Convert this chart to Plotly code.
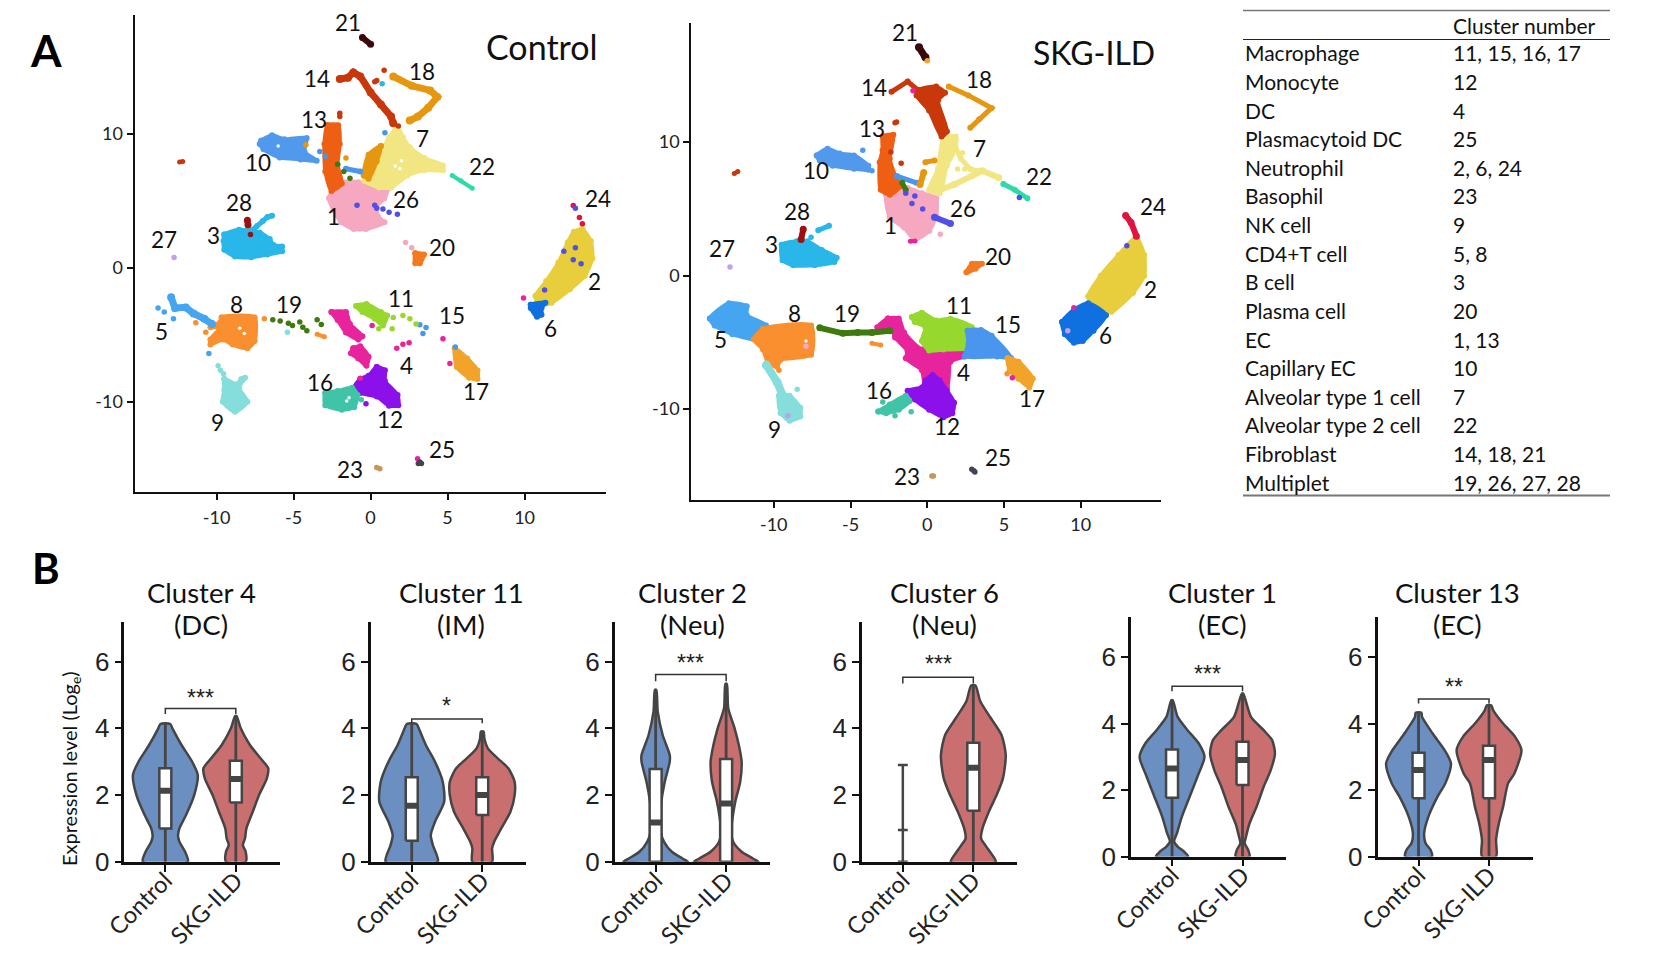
import plotly.graph_objects as go

# ---------- colours of the UMAP clusters ----------
COL = {1:"#F5A8C0",2:"#E8CE3C",3:"#29B6E9",4:"#E8249C",5:"#45A5F0",6:"#0F70E0",7:"#F2E682",8:"#F98F2E",
       9:"#86DEDC",10:"#5199EC",11:"#96D82E",12:"#8B10EA",13:"#EE5F14",14:"#C8380A",15:"#4A96EE",16:"#40C4A8",
       17:"#F2A32A",18:"#E5980F",19:"#3E7A0E",20:"#F47A22",21:"#3A0A0A",22:"#2EDBA8",23:"#C8955A",24:"#E0143C",
       25:"#444450",26:"#5050E8",27:"#C0A0EC",28:"#9C1010"}

# ---------- Control panel: cluster outlines ----------
ctl_1=[(-2.5,5.8),(-1.9,6.4),(-0.8,6.4),(0.3,6.0),(1.1,5.9),(0.9,5.2),(0.4,4.6),(0.5,3.8),(0.9,3.4),(-0.3,2.9),(-1.1,2.9),(-1.9,3.4),(-2.4,4.3),(-2.7,5.2)]
ctl_2=[(13.75,2.9),(14.3,2.0),(14.4,0.7),(13.9,-0.6),(12.95,-1.6),(11.75,-2.6),(10.95,-2.8),(10.7,-2.1),(11.4,-1.0),(12.2,0.4),(12.8,1.9),(13.2,2.7)]
ctl_3=[(-9.5,2.5),(-8.55,2.85),(-7.2,2.65),(-6.55,2.15),(-6.3,1.7),(-5.75,1.6),(-5.75,1.25),(-6.7,1.0),(-7.75,0.8),(-8.8,0.85),(-9.5,1.35),(-9.55,2.0)]
ctl_4a=[(-2.54,-3.3),(-1.6,-3.3),(-1.34,-4.2),(-0.53,-5.1),(-0.8,-5.34),(-1.6,-4.83),(-2.14,-3.9)]
ctl_4b=[(-1.12,-6.0),(-0.67,-5.86),(-0.13,-6.63),(-0.27,-7.3),(-0.8,-6.76),(-1.28,-6.37)]
ctl_6=[(10.4,-2.75),(11.35,-2.6),(11.1,-3.0),(11.1,-3.5),(10.8,-3.65),(10.4,-3.0)]
ctl_7=[(1.75,10.5),(2.1,9.75),(2.55,9.0),(3.5,8.2),(4.7,7.65),(4.7,7.3),(3.5,7.3),(2.4,6.9),(1.35,6.0),(0.55,6.0),(-0.4,6.5),(-0.2,7.4),(0.7,8.7),(1.2,9.75)]
ctl_8=[(-9.67,-3.7),(-7.53,-3.7),(-7.53,-5.47),(-8.0,-6.0),(-8.95,-5.73),(-9.6,-5.34),(-10.4,-5.73),(-10.4,-5.34),(-9.75,-4.44),(-10.4,-4.44),(-9.75,-4.05)]
ctl_9=[(-9.5,-8.3),(-8.7,-8.7),(-8.4,-8.3),(-8.15,-8.2),(-8.55,-8.95),(-8.0,-10.0),(-8.8,-10.75),(-9.6,-10.0),(-9.5,-9.1)]
ctl_10=[(-7.1,9.5),(-6.4,9.9),(-5.6,9.6),(-4.15,9.7),(-4.3,8.7),(-3.5,8.0),(-4.55,8.1),(-5.9,8.25),(-6.95,8.85),(-7.2,9.25)]
ctl_11=[(-0.93,-2.85),(-0.27,-2.7),(0.67,-3.3),(1.07,-3.55),(0.8,-4.3),(0.27,-3.8),(-0.53,-3.3)]
ctl_12=[(0.4,-7.4),(0.93,-7.65),(0.93,-8.45),(1.75,-9.5),(1.8,-10.25),(1.2,-10.3),(0.4,-9.6),(-0.67,-9.35),(-1.07,-8.95),(-0.67,-8.3),(-0.13,-8.05)]
ctl_13=[(-2.8,10.65),(-2.1,10.65),(-2.0,9.25),(-2.15,7.7),(-1.87,6.3),(-2.54,5.75),(-2.94,7.2),(-3.0,9.25)]
ctl_16=[(-2.94,-9.35),(-2.14,-9.2),(-1.2,-8.95),(-0.85,-9.5),(-1.07,-10.4),(-1.87,-10.6),(-2.94,-10.25)]
ctl_17=[(5.47,-6.0),(6.27,-6.76),(6.94,-7.66),(6.94,-8.3),(6.4,-8.2),(5.6,-7.4)]
ctl_18b=[(0.67,9.1),(0.4,7.95),(-0.13,6.65),(-0.45,6.9),(-0.13,8.45)]
ctl_20=[(2.9,1.1),(3.47,1.0),(3.2,0.34),(2.9,0.34)]
ctl_blobs=[(1,ctl_1),(2,ctl_2),(3,ctl_3),(4,ctl_4a),(4,ctl_4b),(6,ctl_6),(7,ctl_7),(8,ctl_8),(9,ctl_9),(10,ctl_10),
           (11,ctl_11),(12,ctl_12),(13,ctl_13),(16,ctl_16),(17,ctl_17),(18,ctl_18b),(20,ctl_20)]
ctl_holes=[(1.6,7.6),(1.9,7.4),(2.0,8.0),(-1.55,-9.95),(-1.4,-9.7),(-8.5,-4.5),(-8.2,-4.9),(-6.0,9.1)]

# thin strands
ctl_3l=[(-7.7,2.8),(-7.4,3.1),(-7.0,3.5),(-6.7,3.8),(-6.4,3.9)]
ctl_5l=[(-12.95,-2.2),(-12.7,-3.0),(-12.0,-2.95),(-11.5,-3.4),(-10.8,-3.8),(-10.3,-4.2)]
ctl_8l=[(-3.47,-4.95),(-3.0,-5.15)]
ctl_14l=[(-2.0,14.1),(-1.47,14.2),(-1.12,14.6),(-0.67,14.3),(0.0,13.1),(0.67,12.2),(1.33,11.3),(1.47,10.8)]
ctl_14s=[(-12.4,7.9),(-12.2,7.95)]
ctl_18l=[(1.47,14.3),(2.67,13.6),(3.87,13.25),(4.33,12.77),(3.74,11.95),(3.07,11.3),(2.54,11.0)]
ctl_21l=[(-0.53,17.2),(0.0,16.7)]
ctl_22l=[(5.3,6.9),(5.87,6.5),(6.6,5.95)]
ctl_28l=[(-8.0,3.55),(-7.96,3.2)]
ctl_15l=[(-1.6,7.4),(-0.67,7.2)]
ctl_lines=[(3,ctl_3l,5),(5,ctl_5l,7),(8,ctl_8l,4),(14,ctl_14l,7),(14,ctl_14s,4),(18,ctl_18l,7),(21,ctl_21l,6),(22,ctl_22l,4),(28,ctl_28l,6),(15,ctl_15l,5)]

# single cells
ctl_dots=[(4,[(1.7,-6.0),(2.1,-5.7),(2.5,-5.6),(4.7,-5.3),(5.15,-7.15),(0.1,-4.3),(9.93,-2.25),(-0.67,-8.25),(3.05,-14.25)]),
          (5,[(-13.8,-3.0),(-13.4,-3.3),(-12.8,-3.8),(-10.5,-6.4)]),
          (15,[(3.2,-4.25),(3.6,-4.45),(3.4,-4.9),(5.5,-5.9),(0.93,10.1),(-3.3,8.7),(-2.94,8.33)]),
          (8,[(-11.35,-4.1),(-10.7,-4.8),(-6.9,-3.8)]),
          (9,[(-9.9,-7.3),(-9.75,-7.65),(-9.55,-7.9),(-5.4,-4.8)]),
          (11,[(1.47,-3.7),(2.1,-3.55),(2.55,-3.8),(2.95,-4.2),(1.4,-4.55),(0.53,-4.55)]),
          (12,[(-0.3,-10.15)]),
          (14,[(0.4,14.0),(0.27,13.9),(0.88,14.75),(1.8,10.6),(-2.0,11.55),(-2.0,11.3)]),
          (16,[(-0.6,-9.85)]),
          (18,[(-1.6,8.2),(-4.2,9.2)]),
          (19,[(-6.35,-3.87),(-5.87,-3.97),(-5.34,-4.13),(-5.07,-4.3),(-4.6,-4.05),(-4.4,-4.44),(-4.14,-4.7),(-3.47,-3.87),(-3.2,-4.23),(-2.14,7.74),(-1.74,7.2),(-1.34,6.7)]),
          (1,[(2.27,1.9),(2.67,1.5)]),
          (3,[(0.75,13.75)]),
          (23,[(0.4,-14.9),(0.6,-15.0)]),
          (24,[(13.16,4.65),(13.56,3.77),(13.75,3.3)]),
          (25,[(3.2,-14.5),(3.3,-14.6),(3.1,-14.6)]),
          (26,[(0.27,4.67),(0.4,4.46),(0.8,4.4),(1.2,4.15),(1.74,4.0),(-0.88,4.67),(12.55,1.24),(13.3,1.5),(13.16,0.6),(13.67,0.3),(11.3,-1.65),(13.3,4.46)]),
          (27,[(-12.76,0.77)]),
          (28,[(-7.8,2.5)])]

# ---------- SKG-ILD panel ----------
skg_1=[(-2.68,6.05),(-1.98,6.56),(-1.28,6.56),(-0.35,6.18),(0.58,5.8),(0.58,4.5),(0.12,3.35),(-0.81,2.7),(-1.51,3.6),(-2.44,4.38)]
skg_2=[(13.6,2.88),(14.13,1.54),(14.13,0.0),(13.4,-1.29),(12.0,-2.7),(11.06,-2.7),(10.48,-1.54),(11.3,0.0),(12.46,1.54)]
skg_3=[(-9.48,2.32),(-8.5,2.57),(-7.8,2.57),(-6.87,1.93),(-5.9,1.34),(-6.05,1.03),(-7.33,0.77),(-8.73,0.77),(-9.43,1.16)]
skg_4=[(-2.56,-3.2),(-1.86,-3.2),(-1.51,-4.25),(-0.35,-5.53),(2.33,-5.53),(2.33,-6.05),(1.51,-6.44),(1.28,-8.37),(-0.12,-8.24),(-0.35,-7.08),(-1.4,-6.18),(-1.28,-5.66),(-2.1,-4.63),(-2.33,-3.99),(-3.26,-3.86)]
skg_5=[(-14.16,-3.2),(-12.92,-2.06),(-11.76,-2.3),(-11.76,-2.96),(-10.5,-3.73),(-10.7,-4.5),(-11.3,-4.76),(-12.7,-4.38),(-13.85,-3.73)]
skg_6=[(8.78,-3.47),(9.55,-2.57),(10.48,-2.06),(11.64,-2.96),(10.83,-4.12),(10.13,-4.9),(9.55,-5.02),(8.96,-4.38)]
skg_7=[(1.05,10.3),(1.86,10.42),(1.86,9.52),(1.28,8.24),(0.81,6.18),(0.12,6.44),(0.7,8.0)]
skg_8=[(-10.7,-3.99),(-7.57,-3.73),(-7.57,-5.92),(-9.55,-6.3),(-9.78,-6.82),(-10.36,-6.56),(-10.7,-5.53),(-11.3,-4.76)]
skg_9=[(-9.66,-9.0),(-8.96,-9.0),(-8.27,-9.9),(-8.27,-10.55),(-8.96,-10.86),(-9.55,-10.3)]
skg_10=[(-7.2,9.0),(-6.5,9.5),(-5.7,9.14),(-4.77,9.0),(-3.84,8.24),(-3.84,7.93),(-4.77,8.0),(-6.17,8.24),(-7.0,8.62)]
skg_11=[(-1.0,-3.09),(-0.35,-2.78),(0.58,-3.35),(1.51,-3.22),(2.9,-3.86),(2.68,-5.4),(1.05,-5.53),(0.12,-5.6),(-0.35,-4.9),(-0.12,-3.86),(-0.81,-3.47)]
skg_12=[(0.35,-7.46),(0.81,-7.85),(1.28,-8.62),(1.75,-9.52),(1.63,-10.3),(1.05,-10.6),(0.12,-10.04),(-0.81,-9.27),(-1.28,-8.62),(-0.35,-8.37),(-0.12,-7.85)]
skg_13=[(-2.9,10.42),(-2.21,10.55),(-2.44,8.75),(-1.98,7.2),(-1.75,6.7),(-2.44,6.05),(-3.03,6.44),(-3.1,8.5),(-2.91,9.4)]
skg_14=[(-0.58,13.9),(0.58,14.16),(1.16,13.7),(0.7,13.13),(1.28,10.8),(0.93,10.42),(0.12,12.36),(-0.7,13.5)]
skg_15=[(2.63,-4.12),(3.5,-4.07),(4.19,-4.5),(5.47,-6.18),(4.54,-6.05),(2.44,-6.05),(2.68,-5.15)]
skg_16=[(-3.19,-10.17),(-2.44,-9.65),(-1.4,-9.0),(-1.16,-9.4),(-1.86,-10.04),(-2.68,-10.3)]
skg_17=[(5.24,-6.18),(5.94,-6.44),(6.87,-7.72),(6.64,-8.37),(5.94,-7.72),(5.36,-7.08)]
skg_20=[(2.56,0.26),(2.91,0.9),(3.56,0.9),(3.14,0.51)]
skg_blobs=[(1,skg_1),(2,skg_2),(3,skg_3),(4,skg_4),(5,skg_5),(6,skg_6),(7,skg_7),(8,skg_8),(9,skg_9),(10,skg_10),
           (11,skg_11),(15,skg_15),(12,skg_12),(13,skg_13),(14,skg_14),(16,skg_16),(17,skg_17),(20,skg_20)]
skg_holes=[(-7.9,-4.9)]

skg_3l=[(-7.1,3.4),(-6.4,3.73)]
skg_7b=[(1.75,9.78),(2.2,8.75),(2.8,7.98),(3.38,7.85)]
skg_7c=[(0.58,6.3),(1.75,6.82),(2.9,7.46),(3.6,7.85),(4.66,7.34)]
skg_8l=[(-3.6,-5.07),(-3.03,-5.2)]
skg_9l=[(-10.48,-6.7),(-9.78,-7.98),(-9.4,-9.0)]
skg_14l=[(-2.33,13.77),(-1.28,14.54),(-0.47,13.77)]
skg_14s=[(-12.57,7.65),(-12.34,7.8)]
skg_15l=[(-1.98,7.46),(-0.7,6.95)]
skg_18l=[(1.4,14.16),(2.68,13.5),(4.19,12.56),(3.38,11.71),(2.8,11.07)]
skg_18b=[(-0.12,8.5),(0.47,8.62)]
skg_18c=[(-0.23,7.72),(-0.47,6.82)]
skg_19l=[(-7.0,-3.91),(-5.5,-4.32),(-4.54,-4.25),(-3.6,-4.25),(-2.44,-4.12)]
skg_19b=[(-1.63,6.95),(-1.4,6.43)]
skg_21l=[(-0.54,17.1),(-0.12,16.35)]
skg_22l=[(4.96,6.87),(5.7,6.43),(6.52,5.8)]
skg_24l=[(12.92,4.5),(13.27,3.99),(13.62,2.96)]
skg_26l=[(0.47,4.38),(1.51,3.91)]
skg_28l=[(-8.08,3.47),(-8.22,2.7)]
skg_4l=[(-1.1,2.57),(-0.8,2.6)]
skg_lines=[(3,skg_3l,5),(7,skg_7b,5),(7,skg_7c,6),(8,skg_8l,4),(9,skg_9l,8),(14,skg_14l,5),(14,skg_14s,4),(15,skg_15l,5),
           (18,skg_18l,5),(18,skg_18b,5),(18,skg_18c,6),(19,skg_19l,6),(19,skg_19b,5),(21,skg_21l,7),(22,skg_22l,5),
           (24,skg_24l,6),(26,skg_26l,6),(28,skg_28l,6),(4,skg_4l,4)]
skg_dots=[(4,[(-0.93,13.85),(9.55,-2.4),(5.54,-7.65)]),
          (3,[(-7.57,2.88)]),
          (7,[(1.98,7.98),(2.44,7.98),(1.5,9.0),(2.3,9.2)]),
          (8,[(-9.66,-7.08),(5.2,-7.34)]),
          (9,[(-8.47,-8.5)]),
          (10,[(-4.2,9.4),(-3.6,7.85)]),
          (14,[(-2.1,11.45),(-2.0,11.5),(-2.37,9.27),(-1.7,8.42)]),
          (16,[(-2.9,-9.47),(-2.1,-10.5),(-1.05,-10.2)]),
          (17,[(0.0,16.1)]),
          (22,[(4.96,6.87)]),
          (23,[(0.3,-15.0),(0.4,-15.0)]),
          (25,[(3.03,-14.62),(2.9,-14.5),(3.1,-14.7)]),
          (26,[(13.0,2.24),(-1.0,5.4),(-0.3,5.0),(-1.4,6.18),(-0.81,5.97),(6.0,5.85)]),
          (27,[(-12.85,0.64),(9.15,-4.12),(-9.08,-10.5)]),
          (1,[(-7.9,-5.28),(0.85,3.1)])]

# ---------- cluster numbers ----------
label_numbers=[21,14,18,13,7,10,22,28,26,1,24,3,27,20,2,5,8,19,11,15,6,4,17,16,9,12,25,23]
ctl_label_x=[-1.47,-3.5,3.34,-3.66,3.34,-7.3,7.26,-8.54,2.32,-2.4,14.74,-10.2,-13.4,4.62,14.55,-13.56,-8.73,-5.29,2.0,5.26,11.7,2.32,6.86,-3.26,-9.96,1.28,4.62,-1.34]
ctl_label_y=[18.3,14.15,14.7,11.05,9.63,7.87,7.56,4.85,5.1,3.82,5.16,2.4,2.1,1.5,-1.03,-4.75,-2.76,-2.76,-2.25,-3.59,-4.52,-7.28,-9.21,-8.57,-11.54,-11.33,-13.6,-15.07]
skg_label_x=[-1.47,-3.49,3.38,-3.61,3.38,-7.26,7.26,-8.5,2.33,-2.37,14.71,-10.13,-13.34,4.61,14.55,-13.5,-8.68,-5.24,2.05,5.24,11.64,2.33,6.8,-3.14,-9.94,1.28,4.61,-1.35]
skg_label_y=[18.22,14.08,14.67,11.02,9.52,7.85,7.46,4.81,5.02,3.78,5.15,2.37,2.06,1.42,-1.03,-4.76,-2.83,-2.83,-2.27,-3.66,-4.5,-7.26,-9.21,-8.57,-11.5,-11.33,-13.59,-15.06]

umap_ticks_x=[-10,-5,0,5,10]
umap_ticks_y=[-10,0,10]

# ---------- table ----------
cell_types=["Macrophage","Monocyte","DC","Plasmacytoid DC","Neutrophil","Basophil","NK cell","CD4+T cell","B cell","Plasma cell","EC","Capillary EC","Alveolar type 1 cell","Alveolar type 2 cell","Fibroblast","Multiplet"]
cluster_numbers=["11, 15, 16, 17","12","4","25","2, 6, 24","23","9","5, 8","3","20","1, 13","10","7","22","14, 18, 21","19, 26, 27, 28"]

# ---------- violins: (expression level, half width) ----------
groups=["Control","SKG-ILD"]
v4_ctl=[(0,.32),(.3,.28),(.6,.2),(.78,.18),(1.0,.2),(1.43,.3),(2.0,.41),(2.6,.46),(3.0,.38),(3.5,.23),(4.0,.1),(4.13,.07)]
v4_skg=[(0,.14),(.3,.14),(.5,.1),(.7,.13),(1.0,.15),(1.5,.24),(2.0,.33),(2.5,.44),(2.8,.46),(3.1,.35),(3.5,.2),(4.0,.07),(4.37,.01)]
v11_ctl=[(0,.37),(.5,.3),(.8,.27),(1.2,.33),(1.8,.46),(2.4,.44),(3.0,.33),(3.5,.2),(4.0,.1),(4.13,.07)]
v11_skg=[(0,.14),(.4,.14),(.6,.17),(1.0,.27),(1.5,.4),(2.0,.46),(2.4,.46),(2.8,.37),(3.1,.22),(3.4,.08),(3.7,.03),(3.9,.02)]
v2_ctl=[(0,.46),(.1,.38),(.3,.23),(.6,.12),(.9,.07),(1.3,.06),(1.8,.08),(2.4,.13),(3.0,.2),(3.2,.2),(3.8,.1),(4.5,.03),(5.15,.01)]
v2_skg=[(0,.46),(.1,.38),(.3,.22),(.6,.1),(.9,.07),(1.3,.09),(1.8,.13),(2.4,.2),(3.0,.22),(3.5,.18),(4.0,.12),(4.6,.03),(5.33,.01)]
v6_skg=[(0,.32),(.2,.27),(.5,.17),(.7,.11),(1.0,.13),(1.5,.22),(2.0,.33),(2.5,.42),(3.2,.46),(3.8,.4),(4.3,.25),(4.8,.1),(5.28,.03)]
v1_ctl=[(0,.23),(.15,.17),(.3,.08),(.45,.03),(.7,.07),(1.2,.14),(1.8,.25),(2.4,.36),(3.0,.46),(3.4,.38),(3.8,.22),(4.2,.08),(4.7,.01)]
v1_skg=[(0,.1),(.2,.08),(.4,.03),(.6,.05),(1.0,.1),(1.5,.2),(2.1,.3),(2.6,.4),(3.1,.46),(3.5,.42),(3.8,.3),(4.2,.12),(4.9,.01)]
v13_ctl=[(0,.19),(.2,.17),(.4,.1),(.7,.08),(1.2,.14),(1.8,.27),(2.2,.38),(2.8,.46),(3.2,.37),(3.7,.2),(4.2,.05),(4.33,.04)]
v13_skg=[(0,.1),(.5,.1),(1.0,.14),(1.5,.2),(2.2,.27),(2.5,.36),(3.2,.46),(3.6,.37),(4.0,.2),(4.4,.06),(4.55,.03)]

# box stats per violin: q1, median, q3, max
s4=[(1.0,2.13,2.8,4.13),(1.78,2.48,3.03,4.37)]
s11=[(.63,1.68,2.53,4.13),(1.4,2.0,2.53,3.9)]
s2=[(0,1.18,2.78,5.15),(0,1.75,3.08,5.33)]
s6=[None,(1.53,2.82,3.57,5.28)]
s1=[(1.77,2.65,3.22,4.7),(2.15,2.9,3.45,4.9)]
s13=[(1.75,2.6,3.12,4.33),(1.75,2.9,3.33,4.55)]

# cluster 6 Control is a bare line: low, middle and high
v6_ctl_line=[0,.95,2.9]

panel_titles=[("Cluster 4","(DC)"),("Cluster 11","(IM)"),("Cluster 2","(Neu)"),("Cluster 6","(Neu)"),("Cluster 1","(EC)"),("Cluster 13","(EC)")]
panel_shapes=[(v4_ctl,v4_skg),(v11_ctl,v11_skg),(v2_ctl,v2_skg),(None,v6_skg),(v1_ctl,v1_skg),(v13_ctl,v13_skg)]
panel_stats=[s4,s11,s2,s6,s1,s13]
bracket_top=[4.59,4.28,5.61,5.53,5.12,4.74]
bracket_leg=[4.43,4.15,5.41,5.34,4.97,4.6]
star_y=[4.92,4.67,5.97,5.92,5.49,5.09]
stars=["***","*","***","***","***","**"]

# ---------- layout constants (pixels of the 1660x980 picture) ----------
W,H=1660,980
def px(x): return x/W
def py(y): return 1-y/H
FONT="Lato"
NUM="Liberation Sans"
BLUE,RED,EDGE="#6A8FC0","#C96F6F","#454545"

fig=go.Figure()

def add_panel(blobs,lines,dots,holes,xa,ya):
    for c,pts in blobs:
        xs=[p[0] for p in pts]+[pts[0][0]]
        ys=[p[1] for p in pts]+[pts[0][1]]
        fig.add_trace(go.Scatter(x=xs,y=ys,mode="lines+markers",fill="toself",fillcolor=COL[c],
            line=dict(color=COL[c],width=4,shape="spline",smoothing=.6),marker=dict(color=COL[c],size=6),xaxis=xa,yaxis=ya,hoverinfo="skip",showlegend=False))
    fig.add_trace(go.Scatter(x=[p[0] for p in holes],y=[p[1] for p in holes],mode="markers",marker=dict(color="white",size=3.5),
        xaxis=xa,yaxis=ya,hoverinfo="skip",showlegend=False))
    for c,pts,w in lines:
        fig.add_trace(go.Scatter(x=[p[0] for p in pts],y=[p[1] for p in pts],mode="lines+markers",
            line=dict(color=COL[c],width=w),marker=dict(color=COL[c],size=w+1),xaxis=xa,yaxis=ya,hoverinfo="skip",showlegend=False))
    for c,pts in dots:
        fig.add_trace(go.Scatter(x=[p[0] for p in pts],y=[p[1] for p in pts],mode="markers",
            marker=dict(color=COL[c],size=5.5),xaxis=xa,yaxis=ya,hoverinfo="skip",showlegend=False))

add_panel(ctl_blobs,ctl_lines,ctl_dots,ctl_holes,"x","y")
add_panel(skg_blobs,skg_lines,skg_dots,skg_holes,"x2","y2")

annots=[]
def text(x,y,t,size,font=FONT,color="#111",bold=False,xanchor="center",xref="paper",yref="paper",angle=0):
    annots.append(dict(x=x,y=y,text=("<b>%s</b>"%t if bold else t),xref=xref,yref=yref,showarrow=False,
        xanchor=xanchor,yanchor="middle",textangle=angle,font=dict(family=font,size=size,color=color)))

for n,a,b in zip(label_numbers,ctl_label_x,ctl_label_y):
    text(a,b,str(n),22.5,xref="x",yref="y")
for n,a,b in zip(label_numbers,skg_label_x,skg_label_y):
    text(a,b,str(n),22.5,xref="x2",yref="y2")

text(px(542),py(46),"Control",34)
text(px(1094),py(53),"SKG-ILD",32)
text(px(45.5),py(50),"A",44,bold=True,color="#000")
text(px(45.5),py(568),"B",42,bold=True,color="#000")

# table
text(px(1451),py(25.5),"Cluster number",21,xanchor="left")
for i,(a,b) in enumerate(zip(cell_types,cluster_numbers)):
    yy=53+28.6*i
    text(px(1242.5),py(yy),a,21,xanchor="left")
    text(px(1451),py(yy),b,21,xanchor="left")
shapes=[]
for yy,col,wd in [(10.5,"#777",1.5),(39.5,"#222",1.2),(495.5,"#777",2)]:
    shapes.append(dict(type="line",xref="paper",yref="paper",x0=px(1243),x1=px(1610),y0=py(yy),y1=py(yy),line=dict(color=col,width=wd)))

layout={}
def umap_axes(i,l,r,t,b,xr,yr):
    s="" if i==1 else str(i)
    layout["xaxis"+s]=dict(domain=[px(l),px(r)],range=xr,anchor="y"+s,automargin=False,showgrid=False,zeroline=False,showline=True,linecolor="#111",linewidth=2,
        ticks="outside",ticklen=6,tickwidth=1.5,tickcolor="#111",tickvals=umap_ticks_x,ticktext=[str(v) for v in umap_ticks_x],
        tickfont=dict(family=FONT,size=18,color="#222"),ticklabelstandoff=2)
    layout["yaxis"+s]=dict(domain=[py(b),py(t)],range=yr,anchor="x"+s,automargin=False,showgrid=False,zeroline=False,showline=True,linecolor="#111",linewidth=2,
        ticks="outside",ticklen=6,tickwidth=1.5,tickcolor="#111",tickvals=umap_ticks_y,ticktext=[str(v) for v in umap_ticks_y],
        tickfont=dict(family=FONT,size=18,color="#222"))
umap_axes(1,134.5,605.6,14.8,492.3,[-15.33,15.26],[-16.76,18.9])
umap_axes(2,691.3,1161.4,23.3,499.7,[-15.37,15.25],[-16.78,18.9])

panel_left=[124.3,370.7,614.6,861.8,1131,1377.5]
panel_top=[621.5,621.5,621.5,621.5,617.2,617.2]
panel_bottom=[861.8,861.8,861.8,861.8,856.5,856.5]
title_x=[201,461,692,944,1222,1457]

for k in range(6):
    i=k+3
    s=str(i); xa="x"+s; ya="y"+s
    l=panel_left[k]
    layout["xaxis"+s]=dict(domain=[px(l),px(l+155.3)],range=[-.582,1.621],anchor="y"+s,automargin=False,showgrid=False,zeroline=False,showline=True,
        linecolor="#111",linewidth=2.5,ticks="outside",ticklen=7,tickwidth=2,tickcolor="#111",tickvals=[0,1],ticktext=groups,tickangle=-45,
        tickfont=dict(family=FONT,size=23.5,color="#222"),ticklabelstandoff=-14)
    layout["yaxis"+s]=dict(domain=[py(panel_bottom[k]),py(panel_top[k])],range=[0,7.2],anchor="x"+s,automargin=False,showgrid=False,zeroline=False,showline=True,
        linecolor="#111",linewidth=2.5,ticks="outside",ticklen=7,tickwidth=2,tickcolor="#111",tickvals=[0,2,4,6],
        tickfont=dict(family=NUM,size=26,color="#222"))
    for j,(shape,col) in enumerate(zip(panel_shapes[k],(BLUE,RED))):
        st=panel_stats[k][j]
        if shape is None:
            lo,mid,hi=v6_ctl_line
            fig.add_trace(go.Scatter(x=[j,j],y=[lo,hi],mode="lines",line=dict(color=EDGE,width=2.5),xaxis=xa,yaxis=ya,hoverinfo="skip",showlegend=False))
            for val in (lo,mid,hi):
                fig.add_trace(go.Scatter(x=[j-.07,j+.07],y=[val,val],mode="lines",line=dict(color=EDGE,width=2.5),xaxis=xa,yaxis=ya,hoverinfo="skip",showlegend=False))
            continue
        ys=[p[0] for p in shape]; hs=[p[1] for p in shape]
        xs=[j-h for h in hs]+[j+h for h in reversed(hs)]+[j-hs[0]]
        yy=ys+ys[::-1]+[ys[0]]
        fig.add_trace(go.Scatter(x=xs,y=yy,mode="lines",fill="toself",fillcolor=col,line=dict(color=EDGE,width=2.5,shape="spline",smoothing=.7),
            xaxis=xa,yaxis=ya,hoverinfo="skip",showlegend=False))
        q1,med,q3,top=st
        fig.add_trace(go.Scatter(x=[j,j],y=[0,top],mode="lines",line=dict(color=EDGE,width=2.8),xaxis=xa,yaxis=ya,hoverinfo="skip",showlegend=False))
        fig.add_trace(go.Scatter(x=[j-.085,j+.085,j+.085,j-.085,j-.085],y=[q1,q1,q3,q3,q1],mode="lines",fill="toself",fillcolor="white",
            line=dict(color=EDGE,width=2.5),xaxis=xa,yaxis=ya,hoverinfo="skip",showlegend=False))
        fig.add_trace(go.Scatter(x=[j-.085,j+.085],y=[med,med],mode="lines",line=dict(color=EDGE,width=6),xaxis=xa,yaxis=ya,hoverinfo="skip",showlegend=False))
    # significance bracket
    fig.add_trace(go.Scatter(x=[0,0,1,1],y=[bracket_leg[k],bracket_top[k],bracket_top[k],bracket_leg[k]],mode="lines",
        line=dict(color="#333",width=1.5),xaxis=xa,yaxis=ya,hoverinfo="skip",showlegend=False))
    text(.5,star_y[k],stars[k],23,font=NUM,color="#222",xref=xa,yref=ya)
    text(px(title_x[k]),py(592.5),panel_titles[k][0],27.5)
    text(px(title_x[k]),py(624.5),panel_titles[k][1],27.5)

annots.append(dict(x=px(70),y=py(769),xref="paper",yref="paper",showarrow=False,textangle=-90,xanchor="center",yanchor="middle",
    text="Expression level (Log<sub>e</sub>)",font=dict(family=FONT,size=20,color="#111")))

fig.update_layout(width=W,height=H,margin=dict(l=0,r=0,t=0,b=0,autoexpand=False),paper_bgcolor="white",plot_bgcolor="white",showlegend=False,
    annotations=annots,shapes=shapes,**layout)
fig.write_html("out.html",post_script="document.body.style.margin='0';",config={"displayModeBar":False})
